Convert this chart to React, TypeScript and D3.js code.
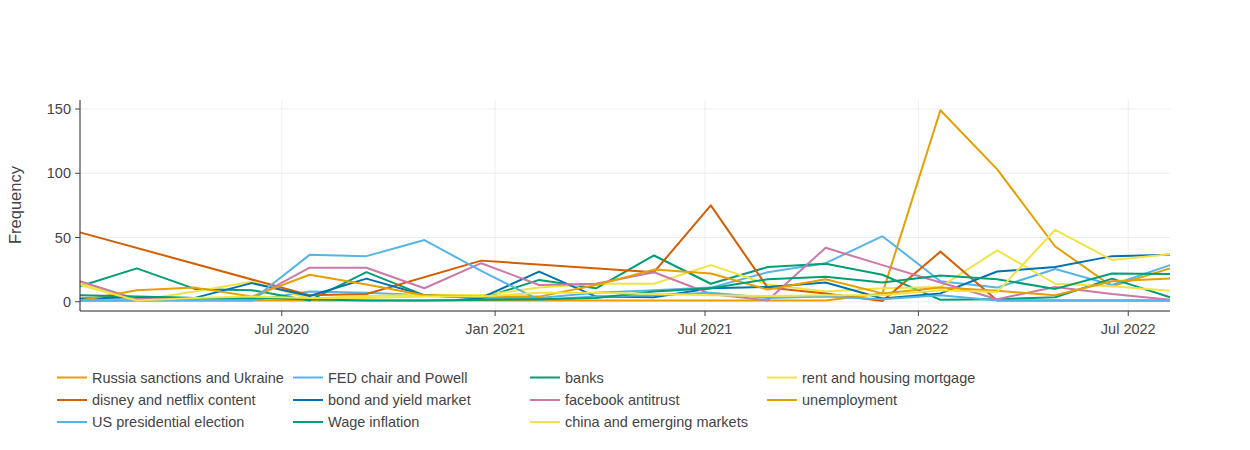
import React from 'react';
import * as d3 from 'd3';

// bin start dates (roughly 7-week bins)
const dates = [
  '2020-01-09', '2020-02-27', '2020-04-17', '2020-06-05', '2020-07-25',
  '2020-09-12', '2020-11-01', '2020-12-20', '2021-02-08', '2021-03-29',
  '2021-05-18', '2021-07-06', '2021-08-24', '2021-10-13', '2021-12-01',
  '2022-01-20', '2022-03-10', '2022-04-29', '2022-06-17', '2022-08-06',
];

const russia = [1, 1, 2, 1, 1, 1, 1, 1, 1, 1, 1, 1, 1, 1, 6.5, 149, 103, 43, 12, 26];
const fed = [1, 1, 1, 1, 8, 7, 5, 3, 3, 7, 9, 11, 23, 30, 51, 16, 11, 25.5, 13, 28.5];
const banks = [12, 26, 10, 9, 1, 23, 5, 2.5, 17, 10.5, 36, 14, 27, 29.5, 21, 1.5, 2, 3.5, 18, 3.5];
const rent = [15, 1, 8, 15.5, 2.5, 4.5, 5.5, 5, 11, 14, 14, 28.5, 13.5, 8, 10.5, 11.5, 40, 14, 12, 8.5];
const disney = [54, null, null, null, 5, 6, null, 32, null, null, 23, 75, 11, 6.5, 0.5, 39, 1, 1, 1, 1];
const bond = [2.5, 3.5, 3, 14.5, 4.5, 18, 5, 3, 23.5, 4, 3.5, 10.5, 11.5, 15, 2.5, 6.5, 23.5, 27, 35.5, 36.5];
const facebook = [16, 2, 2, 2, 26.5, 26.5, 10.5, 30, 13, 14, 23, 6, 1, 42, 28.5, 15, 2, 11.5, 6, 1.5];
const unemployment = [1, 9, 11, 4, 21, 13.5, 5, 4, 4, 13, 25, 22, 9.5, 17.5, 6.5, 11, 8.5, 5, 16, 18];
const uspres = [1, 1, 1, 1, 36.5, 35.5, 48, 24, 1.5, 4, 5, 7, 3, 4, 2, 5, 1, 1, 1, 1];
const wage = [5, 4, 3, 3, 2, 1, 1, 1.5, 2, 3, 8, 10.5, 17.5, 19.5, 15, 20.5, 17.5, 10, 22, 21.5];
const china = [13, 1, 3, 4, 3, 3, 4, 4, 7, 7, 6, 5, 4.5, 5, 5, 9, 7.5, 56, 32.5, 37];

const seriesNames = [
  'Russia sanctions and Ukraine', 'FED chair and Powell', 'banks', 'rent and housing mortgage',
  'disney and netflix content', 'bond and yield market', 'facebook antitrust', 'unemployment',
  'US presidential election', 'Wage inflation', 'china and emerging markets',
];
const seriesValues = [russia, fed, banks, rent, disney, bond, facebook, unemployment, uspres, wage, china];
const palette = ['#E69F00', '#56B4E9', '#009E73', '#F0E442', '#D55E00', '#0072B2', '#CC79A7'];

const yTicks = [0, 50, 100, 150];

const W = 1250;
const H = 450;
const left = 80, right = 1170, top = 100, bottom = 311;
const font = '"Liberation Sans", Arial, sans-serif';

export default function App() {
  const parse = d3.timeParse('%Y-%m-%d');
  const xs = dates.map(d => parse(d) as Date);

  const x = d3.scaleTime()
    .domain([xs[0], xs[xs.length - 1]])
    .range([left, right]);
  const y = d3.scaleLinear().domain([-7.2, 157]).range([bottom, top]);

  const xTicks = x.ticks(d3.timeMonth.every(6) as d3.TimeInterval);
  const fmt = d3.timeFormat('%b %Y');

  const line = d3.line<[Date, number]>()
    .x(d => x(d[0]))
    .y(d => y(d[1]));

  return (
    <svg width={W} height={H} style={{ position: 'absolute', left: 0, top: 0, background: '#fff' }}
      fontFamily={font}>
      {/* grid */}
      {yTicks.map(t => (
        <line key={'gy' + t} x1={left} x2={right} y1={y(t)} y2={y(t)} stroke="#eee" strokeWidth={1} />
      ))}
      {xTicks.map(t => (
        <line key={'gx' + t.getTime()} x1={x(t)} x2={x(t)} y1={top} y2={bottom} stroke="#eee" strokeWidth={1} />
      ))}

      {/* lines */}
      {seriesValues.map((vals, i) => {
        const pts = vals
          .map((v, j) => [xs[j], v] as [Date, number | null])
          .filter(p => p[1] !== null) as [Date, number][];
        return (
          <path key={seriesNames[i]} d={line(pts) || ''} fill="none"
            stroke={palette[i % palette.length]} strokeWidth={2} strokeLinejoin="round" />
        );
      })}

      {/* axes */}
      <line x1={left} x2={left} y1={top} y2={bottom} stroke="#222" strokeWidth={1} />
      <line x1={left} x2={right} y1={bottom} y2={bottom} stroke="#222" strokeWidth={1} />
      {yTicks.map(t => (
        <g key={'ty' + t}>
          <line x1={left - 5} x2={left} y1={y(t)} y2={y(t)} stroke="#444" />
          <text x={71} y={y(t)} dy="0.35em" textAnchor="end" fontSize={14.5} fill="#444">{t}</text>
        </g>
      ))}
      {xTicks.map(t => (
        <g key={'tx' + t.getTime()}>
          <line x1={x(t)} x2={x(t)} y1={bottom} y2={bottom + 5} stroke="#444" />
          <text x={x(t)} y={333.7} textAnchor="middle" fontSize={14.5} fill="#444">{fmt(t)}</text>
        </g>
      ))}
      <text transform={`translate(15,${205}) rotate(-90)`} textAnchor="middle" dominantBaseline="central"
        fontSize={16.5} fill="#444">Frequency</text>

      {/* legend */}
      {seriesNames.map((name, i) => {
        const colX = [57, 293, 530, 767][i % 4];
        const rowY = [377.5, 400, 422][Math.floor(i / 4)];
        return (
          <g key={'lg' + name}>
            <line x1={colX} x2={colX + 30} y1={rowY} y2={rowY} stroke={palette[i % palette.length]} strokeWidth={2} />
            <text x={colX + 35} y={rowY} dy="0.35em" fontSize={14.5} fill="#444">{name}</text>
          </g>
        );
      })}
    </svg>
  );
}
